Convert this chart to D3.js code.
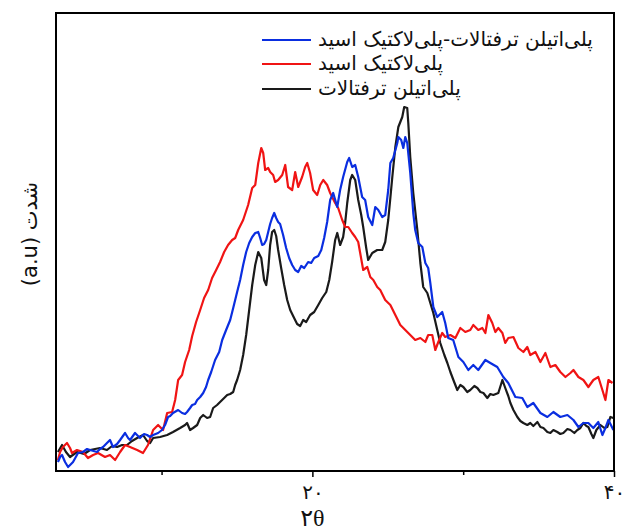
<!DOCTYPE html>
<html lang="fa">
<head>
  <meta charset="UTF-8" />
  <title>XRD</title>
  <script src="https://d3js.org/d3.v7.min.js"></script>
  <style>
    body { margin: 0; background: #fff; }
    svg { display: block; }
    .leg { font-family: "DejaVu Sans", sans-serif; font-size: 20px; fill: #111; }
    .ylab { font-family: "DejaVu Sans", sans-serif; font-size: 21px; fill: #111; }
    .tick text { font-family: "DejaVu Serif", "DejaVu Sans", serif; font-size: 20px; fill: #111; }
    .xlab { font-family: "Liberation Serif", "DejaVu Sans", serif; font-size: 24px; fill: #111; }
  </style>
</head>
<body>
<svg></svg>
<script>
// 2θ (deg) / intensity (a.u.)
const seriesNames = ["پلی‌اتیلن ترفتالات-پلی‌لاکتیک اسید", "پلی‌لاکتیک اسید", "پلی‌اتیلن ترفتالات"];
const seriesColors = ["#0a2ee0", "#f01414", "#1a1a1a"];

const pet = [
  [3.13,19],[3.40,26],[3.66,19],[3.93,14],[4.39,19],[4.86,17],[5.26,21],[5.92,23],[6.38,21],[6.72,25],
  [7.05,24],[7.38,26],[7.71,26],[8.04,30],[8.38,33],[8.77,36],[9.04,30],[9.24,28],[9.44,33],[9.90,34],
  [10.37,36],[10.76,39],[11.23,43],[11.56,46],[11.69,48],[11.89,41],[12.09,43],[12.36,46],[12.56,53],[12.76,56],
  [13.02,53],[13.22,54],[13.42,63],[13.68,66],[13.88,69],[14.15,73],[14.35,76],[14.55,77],[14.75,79],[14.88,86],
  [15.01,91],[15.21,101],[15.41,116],[15.61,136],[15.81,161],[16.01,186],[16.21,206],[16.41,219],[16.61,213],[16.80,191],
  [16.94,186],[17.07,201],[17.20,226],[17.33,239],[17.47,241],[17.60,235],[17.73,221],[17.93,203],[18.13,186],[18.33,171],
  [18.53,161],[18.79,153],[18.99,147],[19.19,145],[19.39,151],[19.59,149],[19.85,156],[20.12,159],[20.39,166],[20.65,173],
  [20.92,179],[21.12,191],[21.31,209],[21.51,231],[21.65,238],[21.84,226],[22.04,234],[22.18,249],[22.31,268],[22.51,291],
  [22.64,296],[22.84,291],[23.04,271],[23.24,256],[23.37,244],[23.57,223],[23.70,211],[23.97,218],[24.30,221],[24.63,221],
  [24.83,229],[25.03,251],[25.17,273],[25.30,294],[25.50,324],[25.70,344],[25.96,354],[26.09,364],[26.29,363],[26.36,348],
  [26.49,314],[26.69,278],[26.96,241],[27.16,208],[27.35,184],[27.62,178],[27.82,168],[28.02,158],[28.28,141],[28.48,128],
  [28.75,116],[28.95,108],[29.15,99],[29.35,91],[29.61,81],[29.81,86],[30.01,84],[30.27,79],[30.47,81],[30.74,85],
  [30.94,83],[31.14,79],[31.34,78],[31.60,73],[31.80,77],[32.00,76],[32.33,78],[32.60,91],[32.79,83],[32.99,75],
  [33.13,68],[33.33,61],[33.59,54],[33.79,50],[33.99,48],[34.25,46],[34.45,48],[34.65,45],[34.92,49],[35.12,44],
  [35.32,43],[35.58,39],[35.78,38],[35.98,41],[36.24,39],[36.44,37],[36.64,38],[36.91,42],[37.11,41],[37.37,38],
  [37.57,41],[37.77,43],[37.97,48],[38.17,45],[38.30,44],[38.50,37],[38.63,33],[38.83,41],[39.10,46],[39.36,43],
  [39.56,44],[39.76,54],[39.96,53]
];

const petPla = [
  [3.13,9],[3.27,14],[3.40,16],[3.60,9],[3.80,4],[4.00,7],[4.13,9],[4.46,18],[4.79,19],[5.06,22],
  [5.26,21],[5.72,19],[5.92,22],[6.12,24],[6.38,28],[6.58,31],[6.78,24],[7.05,27],[7.25,31],[7.58,38],
  [7.78,33],[7.91,31],[8.24,38],[8.57,33],[8.84,37],[9.04,36],[9.24,34],[9.44,36],[9.77,38],[10.03,41],
  [10.23,46],[10.43,54],[10.57,55],[10.76,58],[11.10,61],[11.36,58],[11.56,57],[11.69,59],[11.89,63],[12.03,66],
  [12.22,67],[12.36,71],[12.56,74],[12.76,78],[12.95,84],[13.09,91],[13.29,99],[13.55,111],[13.82,119],[14.02,131],
  [14.28,141],[14.55,151],[14.75,163],[15.01,179],[15.21,191],[15.41,206],[15.61,219],[15.81,228],[16.01,234],[16.21,238],
  [16.41,239],[16.54,233],[16.67,226],[16.80,227],[16.94,231],[17.07,239],[17.20,247],[17.33,253],[17.47,258],[17.60,253],
  [17.73,249],[17.86,247],[18.06,236],[18.26,223],[18.46,213],[18.66,206],[18.86,201],[19.06,199],[19.26,205],[19.46,203],
  [19.72,209],[19.92,208],[20.12,213],[20.39,215],[20.59,221],[20.78,233],[20.98,249],[21.18,271],[21.38,278],[21.65,264],
  [21.84,281],[22.04,294],[22.31,309],[22.44,313],[22.64,304],[22.84,306],[23.04,294],[23.30,274],[23.50,271],[23.70,254],
  [23.97,246],[24.17,264],[24.37,261],[24.63,254],[24.83,256],[25.03,281],[25.17,308],[25.36,313],[25.63,328],[25.70,334],
  [25.89,331],[26.03,323],[26.16,334],[26.29,328],[26.49,298],[26.69,258],[26.82,241],[27.02,228],[27.29,224],[27.49,208],
  [27.68,203],[27.82,188],[28.02,164],[28.28,154],[28.61,159],[28.81,148],[29.01,133],[29.34,131],[29.68,114],[30.01,109],
  [30.34,101],[30.67,106],[31.00,101],[31.47,111],[31.80,108],[32.26,104],[32.66,94],[32.99,88],[33.46,74],[33.92,73],
  [34.25,64],[34.65,68],[35.12,58],[35.58,54],[35.98,59],[36.44,54],[36.91,56],[37.31,51],[37.64,44],[37.97,48],
  [38.30,48],[38.63,43],[38.96,49],[39.23,36],[39.43,43],[39.63,51],[39.96,41]
];

const pla = [
  [3.13,11],[3.27,19],[3.46,24],[3.73,28],[3.93,23],[4.06,18],[4.39,21],[4.79,19],[5.12,13],[5.46,16],
  [5.79,18],[6.25,14],[6.58,16],[6.92,11],[7.25,19],[7.58,26],[7.91,24],[8.38,21],[8.77,18],[9.10,26],
  [9.44,41],[9.77,46],[10.10,41],[10.37,58],[10.70,59],[10.90,71],[11.10,91],[11.36,96],[11.56,109],[11.83,121],
  [12.03,135],[12.29,149],[12.56,161],[12.82,173],[13.09,181],[13.35,193],[13.62,201],[13.88,209],[14.15,219],[14.41,226],
  [14.68,231],[14.88,233],[15.08,241],[15.41,251],[15.74,266],[16.01,283],[16.21,286],[16.41,308],[16.61,323],[16.74,318],
  [16.87,301],[17.07,303],[17.20,299],[17.40,296],[17.53,289],[17.73,291],[18.00,296],[18.20,306],[18.39,284],[18.66,281],
  [18.86,299],[19.06,284],[19.32,294],[19.52,304],[19.66,308],[19.85,298],[20.05,281],[20.32,276],[20.52,286],[20.72,291],
  [20.98,286],[21.18,278],[21.51,268],[21.71,263],[21.98,251],[22.18,244],[22.38,244],[22.64,238],[22.84,234],[23.04,229],
  [23.17,218],[23.37,201],[23.64,204],[23.84,194],[24.04,191],[24.30,184],[24.50,181],[24.83,171],[25.17,166],[25.50,156],
  [25.83,146],[26.16,141],[26.49,136],[26.82,131],[27.16,133],[27.49,129],[27.68,136],[27.95,136],[28.15,121],[28.35,129],
  [28.61,138],[28.81,134],[29.15,136],[29.48,133],[29.81,143],[30.14,139],[30.47,141],[30.67,146],[31.00,141],[31.27,143],
  [31.47,138],[31.67,156],[31.93,148],[32.13,139],[32.33,143],[32.60,138],[32.79,128],[32.99,133],[33.33,134],[33.66,123],
  [33.99,119],[34.25,124],[34.45,116],[34.79,119],[35.12,109],[35.45,118],[35.78,104],[36.11,106],[36.44,99],[36.78,94],
  [37.11,98],[37.31,101],[37.64,94],[37.97,91],[38.30,84],[38.63,91],[38.96,94],[39.23,81],[39.43,71],[39.63,91],
  [39.90,88]
];

const xTicks = [10, 20, 30, 40];
const xTickLabels = ["", "۲۰", "", "۴۰"];

const width = 622, height = 531;
const margin = { left: 56, right: 8, top: 13, bottom: 60 };

const svg = d3.select("svg").attr("width", width).attr("height", height);

const x = d3.scaleLinear().domain([3, 40]).range([margin.left, width - margin.right]);
const y = d3.scaleLinear().domain([0, 458]).range([height - margin.bottom, margin.top]);

const line = d3.line().x(d => x(d[0])).y(d => y(d[1]));

// curves
const allSeries = [pet, pla, petPla];
const allColors = [seriesColors[2], seriesColors[1], seriesColors[0]];
allSeries.forEach((s, i) => {
  svg.append("path")
    .datum(s)
    .attr("fill", "none")
    .attr("stroke", allColors[i])
    .attr("stroke-width", 2.2)
    .attr("stroke-linejoin", "round")
    .attr("d", line);
});

// frame
svg.append("rect")
  .attr("x", x(3)).attr("y", y(458))
  .attr("width", x(40) - x(3)).attr("height", y(0) - y(458))
  .attr("fill", "none").attr("stroke", "#000").attr("stroke-width", 2);

// x axis
const xAxis = d3.axisBottom(x)
  .tickValues(xTicks)
  .tickSize(6)
  .tickPadding(8)
  .tickFormat((d, i) => xTickLabels[i]);

const gx = svg.append("g")
  .attr("transform", `translate(0,${y(0)})`)
  .call(xAxis);
gx.select(".domain").remove();
gx.selectAll(".tick line").attr("stroke", "#000").attr("stroke-width", 1.5)
  .attr("y2", (d, i) => xTickLabels[i] ? 6 : 4);

svg.append("text")
  .attr("class", "xlab")
  .attr("x", x(20)).attr("y", 526)
  .attr("text-anchor", "middle")
  .text("۲θ");

svg.append("text")
  .attr("class", "ylab")
  .attr("transform", `translate(30,${234}) rotate(-90)`)
  .attr("text-anchor", "middle")
  .attr("dy", "0.35em")
  .text("(a.u) شدت");

// legend
const legY = [40, 64, 89];
seriesNames.forEach((name, i) => {
  svg.append("line")
    .attr("x1", 262).attr("x2", 311)
    .attr("y1", legY[i]).attr("y2", legY[i])
    .attr("stroke", seriesColors[i]).attr("stroke-width", 2);
  svg.append("text")
    .attr("class", "leg")
    .attr("x", 318).attr("y", legY[i])
    .attr("dy", "0.3em")
    .text(name);
});
</script>
</body>
</html>
